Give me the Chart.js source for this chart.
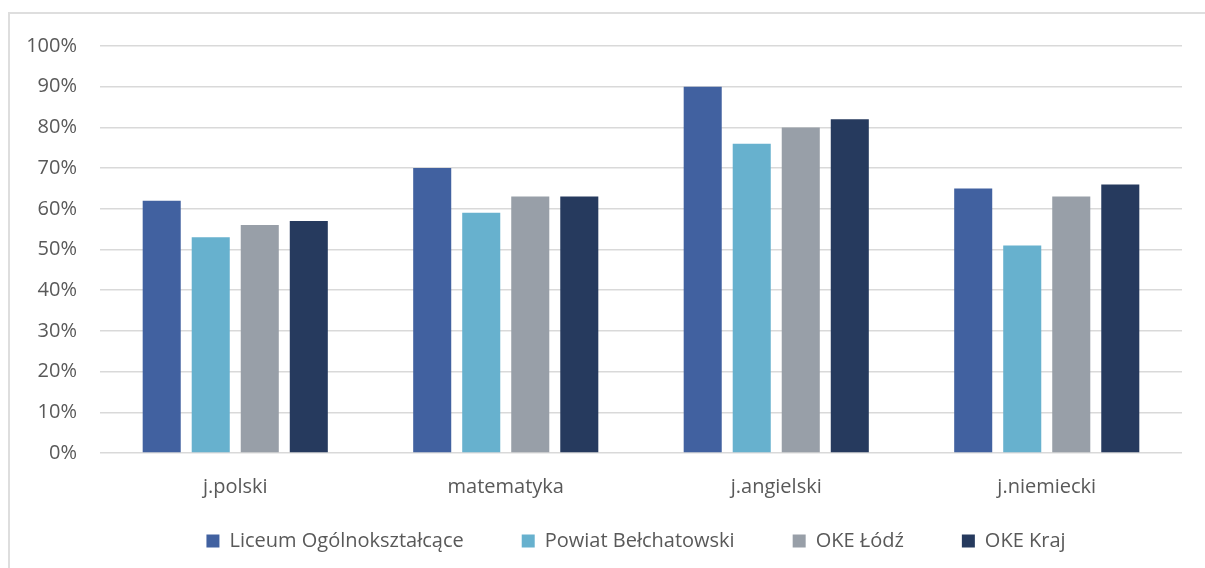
<!DOCTYPE html>
<html>
<head>
<meta charset="utf-8">
<script src="https://cdn.jsdelivr.net/npm/chart.js@4"></script>
<style>
    html, body { margin: 0; padding: 0; background: #fff; overflow: hidden; }
    body { width: 1205px; height: 568px; position: relative; }
    .frame {
        position: absolute; left: 8px; top: 12px; width: 1300px; height: 700px;
        border-left: 2px solid #dedede; border-top: 2px solid #dedede;
    }
    .wrap { position: absolute; left: 0; top: 0; width: 1272px; height: 591px; }
</style>
</head>
<body>
<div class="frame"></div>
<div class="wrap"><canvas id="examChart"></canvas></div>
<script>
const subjects = ["j.polski", "matematyka", "j.angielski", "j.niemiecki"];
const seriesNames = ["Liceum Ogólnokształcące", "Powiat Bełchatowski", "OKE Łódź", "OKE Kraj"];
const liceum = [62, 70, 90, 65];
const powiat = [53, 59, 76, 51];
const okeLodz = [56, 63, 80, 63];
const okeKraj = [57, 63, 82, 66];
const colors = ["#4161a0", "#67b1ce", "#989fa8", "#263a5e"];
const yTicks = [0, 10, 20, 30, 40, 50, 60, 70, 80, 90, 100];

const textColor = "#595959";
const font = { family: "Open Sans", size: 20 };

function makeDataset(i, values) {
    return {
        label: seriesNames[i],
        data: values,
        backgroundColor: colors[i],
        borderWidth: 0,
        categoryPercentage: 0.725,
        barPercentage: 0.776
    };
}

// legend padding is big (wide gaps between items), so pull the whole legend up a bit
const legendShift = {
    id: "legendShift",
    afterLayout(chart) {
        chart.legend.top -= 30;
        chart.legend.bottom -= 30;
    }
};

const ctx = document.getElementById("examChart");
new Chart(ctx, {
    type: "bar",
    data: {
        labels: subjects,
        datasets: [
            makeDataset(0, liceum),
            makeDataset(1, powiat),
            makeDataset(2, okeLodz),
            makeDataset(3, okeKraj)
        ]
    },
    plugins: [legendShift],
    options: {
        responsive: true,
        maintainAspectRatio: false,
        animation: false,
        layout: { padding: { top: 46, left: 0, right: 0, bottom: 0 } },
        plugins: {
            legend: {
                position: "bottom",
                labels: {
                    color: textColor,
                    font: font,
                    boxWidth: 13,
                    boxHeight: 13,
                    padding: 58
                }
            },
            tooltip: { enabled: false }
        },
        scales: {
            x: {
                grid: { display: false, drawTicks: false },
                border: { display: false },
                ticks: { color: textColor, font: font, padding: 22 },
                afterFit: (scale) => { scale.height = 50; }
            },
            y: {
                min: 0,
                max: 100,
                afterBuildTicks: (scale) => { scale.ticks = yTicks.map(v => ({ value: v })); },
                grid: { color: "#d9d9d9", lineWidth: 1.5, drawTicks: false },
                border: { display: false },
                ticks: {
                    color: textColor,
                    font: font,
                    padding: 23,
                    callback: (v) => v + "%"
                },
                afterFit: (scale) => { scale.width = 100; }
            },
            yRight: {
                position: "right",
                min: 0,
                max: 100,
                grid: { display: false, drawTicks: false },
                border: { display: false },
                ticks: { display: false },
                afterFit: (scale) => { scale.width = 90; }
            }
        }
    }
});
</script>
</body>
</html>
